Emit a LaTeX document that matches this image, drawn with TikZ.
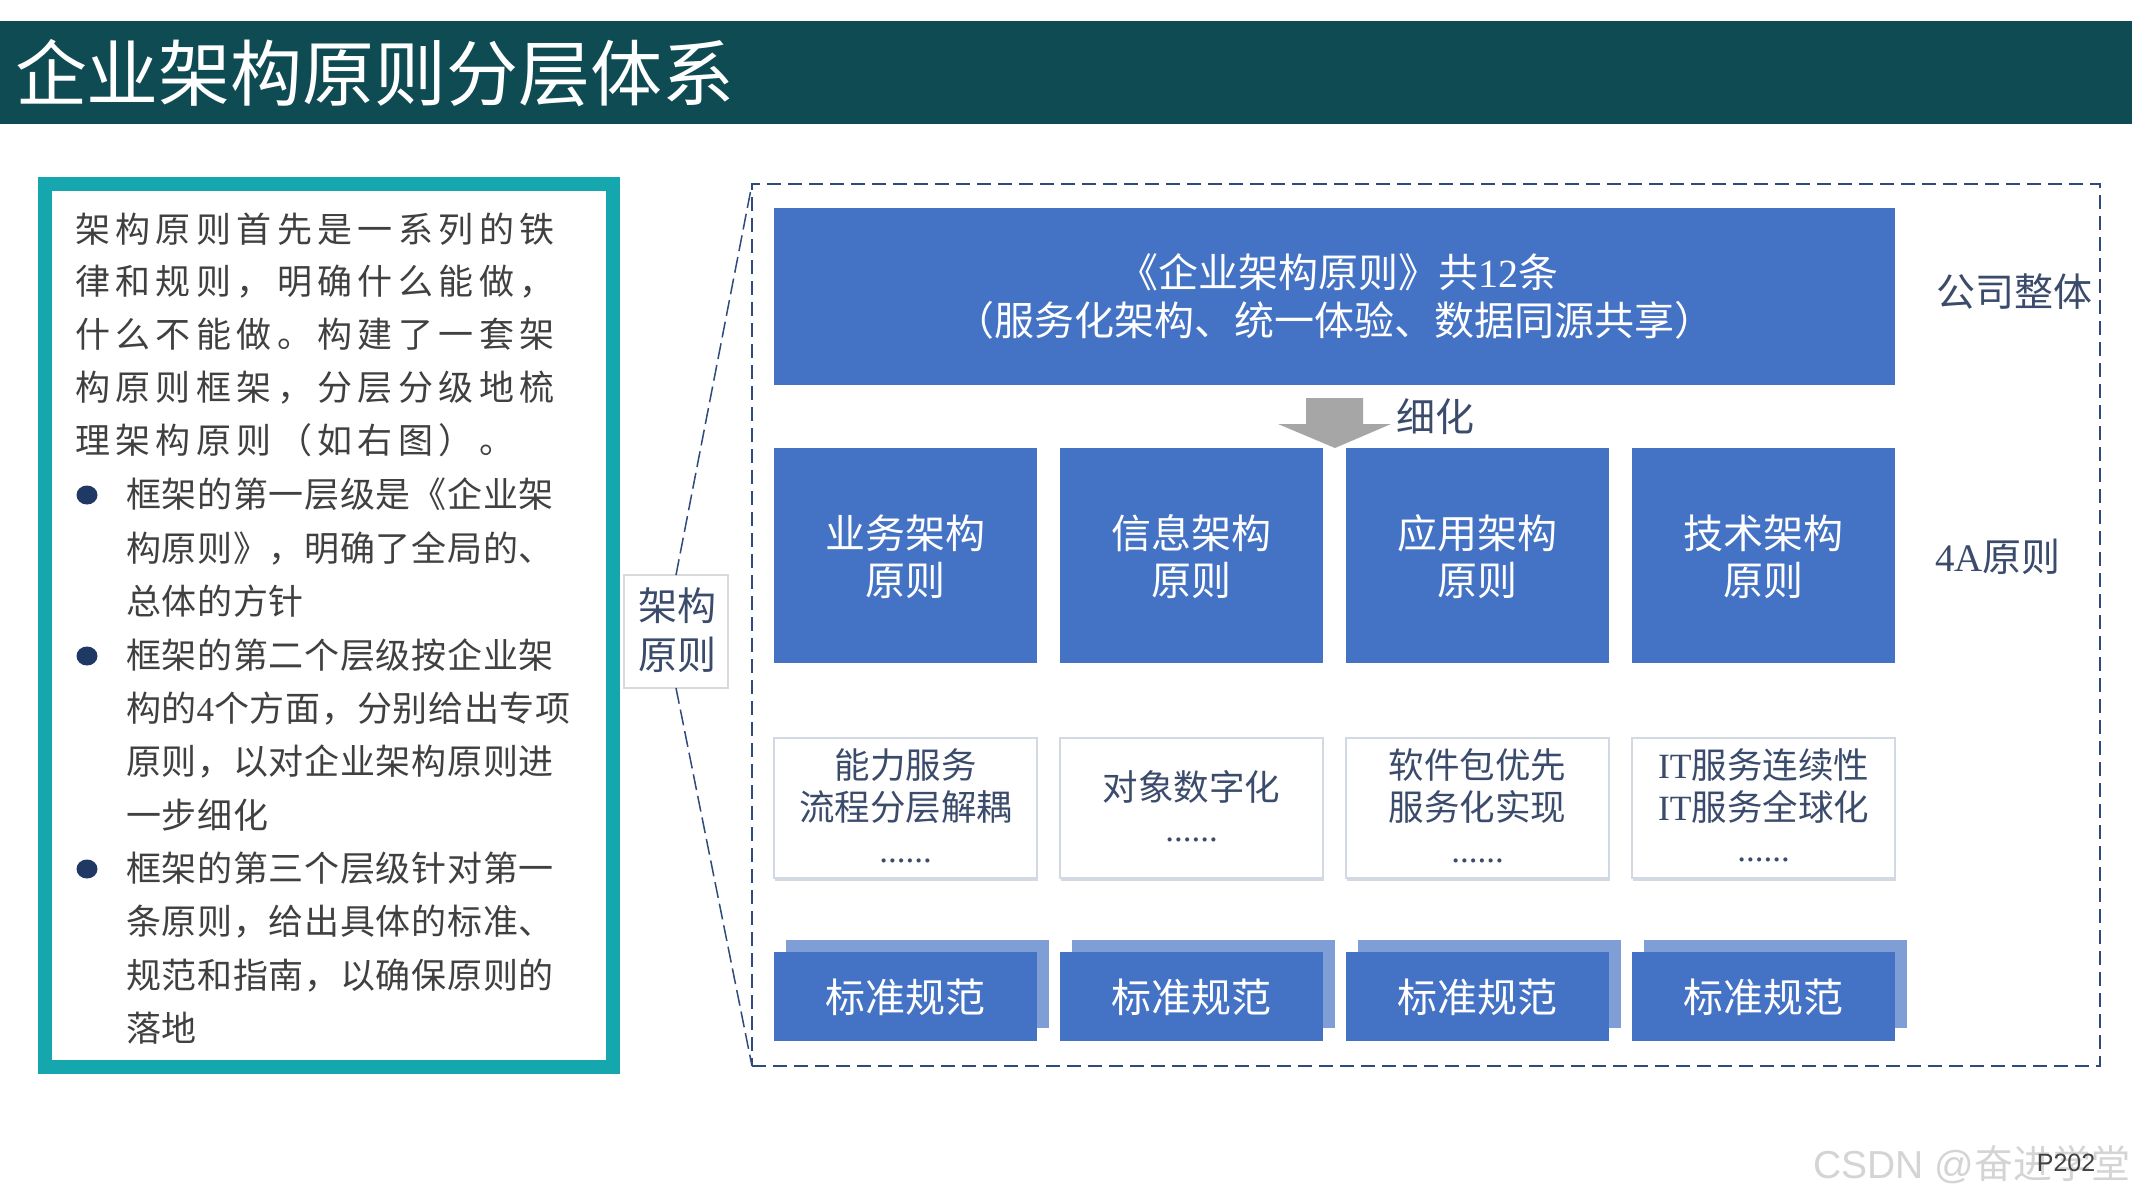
\documentclass[tikz,border=0pt]{standalone}
\usepackage{fontspec}
\setmainfont{Noto Sans CJK SC}
\newfontfamily\paraf[LetterSpace=15.5]{Noto Sans CJK SC}
\newfontfamily\bodyf[LetterSpace=2]{Noto Sans CJK SC}
\newfontfamily\latf{Liberation Serif}
\newfontfamily\wmf{Liberation Sans}
\definecolor{titlebg}{HTML}{0F4B53}
\definecolor{tealb}{HTML}{16A6AE}
\definecolor{txtg}{HTML}{404040}
\definecolor{navyb}{HTML}{1F3864}
\definecolor{blu}{HTML}{4472C4}
\definecolor{lblu}{HTML}{7F9ED6}
\definecolor{slate}{HTML}{3B4B6B}
\definecolor{dashc}{HTML}{2F4A7C}
\definecolor{arrowg}{HTML}{A6A6A6}
\definecolor{shadc}{HTML}{D3D9E3}
\definecolor{wmc}{HTML}{D4D4D4}
\tikzset{
  rbox/.style={anchor=north west, inner sep=0pt, outer sep=0pt},
  tl/.style={inner sep=0pt, outer sep=0pt},
  pl/.style={tl, anchor=west, text=txtg, text height=30.8pt, text depth=4.2pt, font=\paraf\fontsize{35}{40}\selectfont},
  ln/.style={tl, anchor=west, text=txtg, text height=30.8pt, text depth=4.2pt, font=\bodyf\fontsize{35}{40}\selectfont},
  bul/.style={ellipse, fill=navyb, inner sep=0pt, minimum width=21pt, minimum height=19pt},
  bluebox/.style={rbox, fill=blu, minimum width=263pt, minimum height=215pt},
  wbox/.style={rbox, fill=white, draw=shadc, line width=1.5pt, minimum width=263pt, minimum height=140pt,
     preaction={fill=shadc, transform canvas={xshift=1pt, yshift=-3pt}}},
  backbox/.style={rbox, fill=lblu, minimum width=263pt, minimum height=88pt},
  frontbox/.style={rbox, fill=blu, minimum width=263pt, minimum height=89pt},
  wt/.style={tl, text=white, text height=35.2pt, text depth=4.8pt, font=\fontsize{40}{46}\selectfont},
  st/.style={tl, text=slate, text height=31.2pt, text depth=4.3pt, font=\fontsize{35.5}{40}\selectfont},
  sl/.style={tl, text=slate, text height=34.3pt, text depth=4.7pt, font=\fontsize{39}{44}\selectfont},
  dots/.style={inner sep=0pt, text=slate, font=\latf\fontsize{35}{40}\selectfont}
}
\usetikzlibrary{shapes.geometric}
\begin{document}
\begin{tikzpicture}[x=1pt,y=-1pt]
\useasboundingbox (0,0) rectangle (2134,1200);
\fill[white] (0,0) rectangle (2134,1200);
% title bar
\node[rbox, fill=titlebg, minimum width=2132pt, minimum height=103pt] (titlebar) at (0,21) {};
\node[tl, anchor=west, text=white, text height=63.4pt, text depth=8.6pt, font=\fontsize{72}{80}\selectfont] (title) at (15,73) {企业架构原则分层体系};

% left text box
\node[rbox, draw=tealb, line width=14pt, minimum width=568pt, minimum height=883pt] (lbox) at (45,184) {};
\node[pl] (p1) at (75,229) {架构原则首先是一系列的铁};
\node[pl] (p2) at (75,281) {律和规则，明确什么能做，};
\node[pl] (p3) at (75,334) {什么不能做。构建了一套架};
\node[pl] (p4) at (75,387) {构原则框架，分层分级地梳};
\node[pl] (p5) at (75,440) {理架构原则（如右图）。};
\node[bul] (b1) at (87,495) {};
\node[ln] (p6) at (126,494) {框架的第一层级是《企业架};
\node[ln] (p7) at (126,548) {构原则》，明确了全局的、};
\node[ln] (p8) at (126,601) {总体的方针};
\node[bul] (b2) at (87,656) {};
\node[ln] (p9) at (126,655) {框架的第二个层级按企业架};
\node[ln] (p10) at (126,708) {构的{\latf 4}个方面，分别给出专项};
\node[ln] (p11) at (126,761) {原则，以对企业架构原则进};
\node[ln] (p12) at (126,815) {一步细化};
\node[bul] (b3) at (87,869) {};
\node[ln] (p13) at (126,868) {框架的第三个层级针对第一};
\node[ln] (p14) at (126,921) {条原则，给出具体的标准、};
\node[ln] (p15) at (126,975) {规范和指南，以确保原则的};
\node[ln] (p16) at (126,1028) {落地};

% dashed frame
\node[rbox, draw=dashc, line width=2.5pt, dash pattern=on 14pt off 7pt, minimum width=1348pt, minimum height=882pt] (dbox) at (752,184) {};

% label box
\node[rbox, fill=white, draw=black!15, line width=1.5pt, minimum width=104pt, minimum height=113pt] (lbl) at (624,575) {};
\node[sl] (lbl1) at (677,606) {架构};
\node[sl] (lbl2) at (677,655) {原则};
\draw[dashc, line width=1.5pt, dash pattern=on 16pt off 6pt] (lbl.north) -- (dbox.north west);
\draw[dashc, line width=1.5pt, dash pattern=on 16pt off 6pt] (lbl.south) -- (dbox.south west);

% top box
\node[rbox, fill=blu, minimum width=1121pt, minimum height=177pt] (top) at (774,208) {};
\node[wt] (top1) at (1338,272) {《企业架构原则》共{\latf 12}条};
\node[wt] (top2) at (1334,320) {（服务化架构、统一体验、数据同源共享）};
\node[sl] (lv1) at (2014,292) {公司整体};

% arrow
\fill[arrowg] (1306,398) -- (1363,398) -- (1363,424) -- (1391,424) -- (1335,448) -- (1278,424) -- (1306,424) -- cycle;
\node[sl] (refine) at (1435,417) {细化};

% row 2
\node[bluebox] (a1) at (774,448) {};
\node[bluebox] (a2) at (1060,448) {};
\node[bluebox] (a3) at (1346,448) {};
\node[bluebox] (a4) at (1632,448) {};
\node[wt] (a1t) at (905.5,533) {业务架构};
\node[wt] (a1u) at (905.5,580) {原则};
\node[wt] (a2t) at (1191.5,533) {信息架构};
\node[wt] (a2u) at (1191.5,580) {原则};
\node[wt] (a3t) at (1477.5,533) {应用架构};
\node[wt] (a3u) at (1477.5,580) {原则};
\node[wt] (a4t) at (1763.5,533) {技术架构};
\node[wt] (a4u) at (1763.5,580) {原则};
\node[sl] (lv2) at (1998,557) {{\latf 4A}原则};

% row 3
\node[wbox] (c1) at (774,738) {};
\node[wbox] (c2) at (1060,738) {};
\node[wbox] (c3) at (1346,738) {};
\node[wbox] (c4) at (1632,738) {};
\node[st] (c1a) at (905.5,765) {能力服务};
\node[st] (c1b) at (905.5,807) {流程分层解耦};
\node[dots] (c1c) at (905.5,861) {......};
\node[st] (c2a) at (1191.5,787) {对象数字化};
\node[dots] (c2c) at (1191.5,840) {......};
\node[st] (c3a) at (1477.5,765) {软件包优先};
\node[st] (c3b) at (1477.5,807) {服务化实现};
\node[dots] (c3c) at (1477.5,861) {......};
\node[st] (c4a) at (1763.5,765) {{\latf IT}服务连续性};
\node[st] (c4b) at (1763.5,807) {{\latf IT}服务全球化};
\node[dots] (c4c) at (1763.5,860) {......};

% row 4
\node[backbox] (d1b) at (786,940) {};
\node[backbox] (d2b) at (1072,940) {};
\node[backbox] (d3b) at (1358,940) {};
\node[backbox] (d4b) at (1644,940) {};
\node[frontbox] (d1) at (774,952) {};
\node[frontbox] (d2) at (1060,952) {};
\node[frontbox] (d3) at (1346,952) {};
\node[frontbox] (d4) at (1632,952) {};
\node[wt] (d1t) at (905.5,997) {标准规范};
\node[wt] (d2t) at (1191.5,997) {标准规范};
\node[wt] (d3t) at (1477.5,997) {标准规范};
\node[wt] (d4t) at (1763.5,997) {标准规范};

% watermark
\node[tl, text=wmc, text height=34.3pt, text depth=4.7pt, font=\fontsize{39}{44}\selectfont, anchor=east] (wm) at (2130,1164) {{\wmf CSDN @}奋进学堂};
\node[inner sep=0pt, text=txtg, font=\wmf\fontsize{25}{30}\selectfont] (pg) at (2066,1163) {P202};
\end{tikzpicture}
\end{document}
